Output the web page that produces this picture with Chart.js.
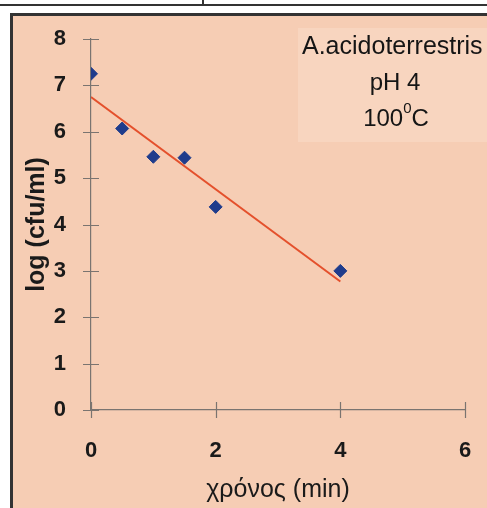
<!DOCTYPE html>
<html>
<head>
<meta charset="utf-8">
<script src="https://cdn.jsdelivr.net/npm/chart.js@4.4.0/dist/chart.umd.min.js"></script>
<style>
  html, body { margin: 0; padding: 0; background: #ffffff; }
  #wrap { width: 487px; height: 508px; }
</style>
</head>
<body>
<div id="wrap"><canvas id="chart" width="487" height="508"></canvas></div>
<script>
// measured points: time (min) vs log(cfu/ml)
const timeMin = [0, 0.5, 1, 1.5, 2, 4];
const logCfu = [7.25, 6.07, 5.46, 5.44, 4.38, 3.0];

// fitted line at its two ends
const trendX = [0, 4];
const trendY = [6.75, 2.77];

const xTicks = [0, 2, 4, 6];
const yTicks = [0, 1, 2, 3, 4, 5, 6, 7, 8];

const labelLines = ["A.acidoterrestris", "pH 4", "100"];

const FONT = "'Liberation Sans', Arial, sans-serif";
const ctx = document.getElementById("chart").getContext("2d");

// page background, frame and the annotation box
const backdrop = {
  id: "backdrop",
  beforeDraw(chart) {
    const c = chart.ctx;
    c.save();
    c.fillStyle = "#ffffff";
    c.fillRect(0, 0, chart.width, chart.height);
    c.fillStyle = "#f6cdb4";
    c.fillRect(12, 15, chart.width - 12, chart.height - 15);
    c.fillStyle = "#f8d5bf";
    c.fillRect(298, 28, chart.width - 298, 114);
    c.fillStyle = "#333333";
    c.fillRect(0, 4, chart.width, 2);
    c.fillRect(202, 0, 2, 5);
    c.fillRect(10, 13, chart.width - 10, 3);
    c.fillRect(10, 13, 3, chart.height - 13);
    c.restore();
  },
};

// ticks that cross the axis lines, like the original
const crossTicks = {
  id: "crossTicks",
  afterDraw(chart) {
    const c = chart.ctx;
    const xs = chart.scales.x;
    const ys = chart.scales.y;
    const x0 = xs.getPixelForValue(0);
    const y0 = ys.getPixelForValue(0);
    c.save();
    c.strokeStyle = "#7a7470";
    c.lineWidth = 1.2;
    c.beginPath();
    yTicks.forEach((v) => {
      const p = Math.round(ys.getPixelForValue(v)) + 0.5;
      c.moveTo(x0 - 8, p);
      c.lineTo(x0 + 8, p);
    });
    xTicks.forEach((v) => {
      const p = Math.round(xs.getPixelForValue(v)) + 0.5;
      c.moveTo(p, y0 - 8);
      c.lineTo(p, y0 + 8);
    });
    c.stroke();

    // annotation text
    c.fillStyle = "#151515";
    c.textBaseline = "middle";
    c.textAlign = "left";
    c.font = "25px " + FONT;
    c.fillText(labelLines[0], 302, 47);
    c.textAlign = "center";
    c.font = "24px " + FONT;
    c.fillText(labelLines[1], 395, 83);
    const w100 = c.measureText(labelLines[2]).width;
    const wC = c.measureText("C").width;
    c.font = "15px " + FONT;
    const wSup = c.measureText("0").width;
    const total = w100 + wSup + wC;
    let sx = 396 - total / 2;
    c.textAlign = "left";
    c.font = "24px " + FONT;
    c.fillText(labelLines[2], sx, 119);
    sx += w100;
    c.font = "15px " + FONT;
    c.fillText("0", sx, 109);
    sx += wSup;
    c.font = "24px " + FONT;
    c.fillText("C", sx, 119);
    c.restore();
  },
};

const chart = new Chart(ctx, {
  type: "scatter",
  data: {
    datasets: [
      {
        label: "trend",
        type: "line",
        data: trendX.map((x, i) => ({ x: x, y: trendY[i] })),
        borderColor: "#e4502c",
        borderWidth: 2,
        pointRadius: 0,
        fill: false,
        order: 2,
      },
      {
        label: "log (cfu/ml)",
        data: timeMin.map((x, i) => ({ x: x, y: logCfu[i] })),
        pointStyle: "rectRot",
        pointRadius: 6.5,
        backgroundColor: "#1f3c8c",
        borderColor: "#1f3c8c",
        order: 1,
      },
    ],
  },
  options: {
    responsive: false,
    animation: false,
    layout: { padding: { top: 39, right: 22, left: 0, bottom: 0 } },
    plugins: {
      legend: { display: false },
      tooltip: { enabled: false },
    },
    scales: {
      x: {
        type: "linear",
        min: 0,
        max: 6,
        afterBuildTicks: (scale) => {
          scale.ticks = xTicks.map((v) => ({ value: v }));
        },
        afterFit: (scale) => {
          scale.height = 98;
          // tick padding would otherwise eat into the right side
          scale.paddingLeft = 6;
          scale.paddingRight = 6;
        },
        grid: { display: false, drawTicks: false },
        border: { display: true, color: "#7a7470", width: 1.2 },
        ticks: {
          padding: 28,
          color: "#1a1a1a",
          font: { family: FONT, size: 22, weight: "bold" },
        },
        title: {
          display: true,
          text: "χρόνος (min)",
          color: "#1a1a1a",
          padding: { top: 0, bottom: 3 },
          font: { family: FONT, size: 25 },
        },
      },
      y: {
        type: "linear",
        min: 0,
        max: 8,
        afterBuildTicks: (scale) => {
          scale.ticks = yTicks.map((v) => ({ value: v }));
        },
        afterFit: (scale) => {
          scale.width = 91;
        },
        grid: { display: false, drawTicks: false },
        border: { display: true, color: "#7a7470", width: 1.2 },
        ticks: {
          padding: 25,
          color: "#1a1a1a",
          font: { family: FONT, size: 22, weight: "bold" },
        },
        title: {
          display: true,
          text: "log (cfu/ml)",
          color: "#1a1a1a",
          padding: { top: 22, bottom: 0 },
          font: { family: FONT, size: 25, weight: "bold" },
        },
      },
    },
  },
  plugins: [backdrop, crossTicks],
});
</script>
</body>
</html>
